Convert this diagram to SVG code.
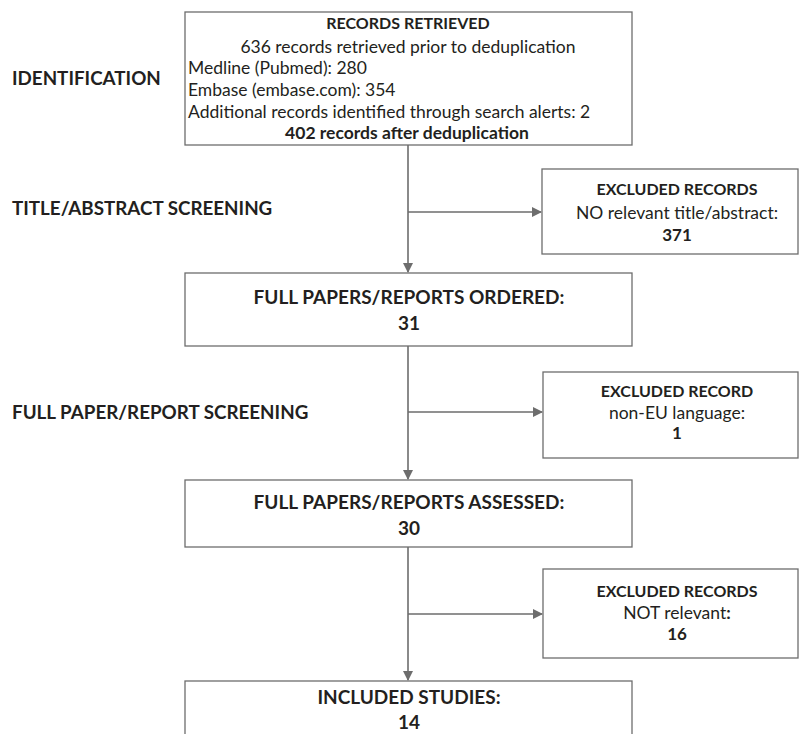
<svg xmlns="http://www.w3.org/2000/svg" width="803" height="734" viewBox="0 0 803 734">
<style>
text{font-family:Lato,"Open Sans","Liberation Sans",sans-serif;fill:#231f20}
.box{fill:#fff;stroke:#6d6d6d;stroke-width:1.3}
.ln{stroke:#6d6d6d;stroke-width:1.6;fill:none}
.b{font-weight:bold}
.c{text-anchor:middle}
.lab{font-size:18.8px;font-weight:bold}
.t{font-size:17.5px}
.h{font-size:16px;font-weight:bold}
.n{font-size:17px;font-weight:bold}
.big{font-size:19px;font-weight:bold}
</style>
<defs>
<marker id="ah" markerWidth="10" markerHeight="10" refX="9" refY="5" orient="auto" markerUnits="userSpaceOnUse">
<path d="M0,0 L10,5 L0,10 Z" fill="#6d6d6d"/>
</marker>
</defs>
<g id="labels">
<text class="lab" x="12" y="85">IDENTIFICATION</text>
<text class="lab" x="12" y="215">TITLE/ABSTRACT SCREENING</text>
<text class="lab" x="12" y="419">FULL PAPER/REPORT SCREENING</text>
</g>
<g id="connectors">
<line class="ln" x1="408" y1="145" x2="408" y2="272" marker-end="url(#ah)"/>
<line class="ln" x1="408" y1="212" x2="541" y2="212" marker-end="url(#ah)"/>
<line class="ln" x1="408" y1="346" x2="408" y2="479" marker-end="url(#ah)"/>
<line class="ln" x1="408" y1="412" x2="542" y2="412" marker-end="url(#ah)"/>
<line class="ln" x1="408" y1="547" x2="408" y2="680" marker-end="url(#ah)"/>
<line class="ln" x1="408" y1="614" x2="542" y2="614" marker-end="url(#ah)"/>
</g>
<g id="records-retrieved">
<rect class="box" x="185" y="12" width="447" height="133"/>
<text class="h c" x="408" y="29">RECORDS RETRIEVED</text>
<text class="t c" x="408" y="53">636 records retrieved prior to deduplication</text>
<text class="t" x="188" y="74">Medline (Pubmed): 280</text>
<text class="t" x="188" y="96">Embase (embase.com): 354</text>
<text class="t" x="188" y="118">Additional records identified  through search alerts: 2</text>
<text class="t b c" x="407" y="139">402 records after deduplication</text>
</g>
<g id="excluded-1">
<rect class="box" x="542" y="169" width="256" height="85"/>
<text class="h c" x="677" y="195">EXCLUDED RECORDS</text>
<text class="t c" x="677" y="219">NO relevant title/abstract:</text>
<text class="n c" x="677" y="241">371</text>
</g>
<g id="full-papers-ordered">
<rect class="box" x="185" y="273" width="447" height="73"/>
<text class="big c" x="409" y="304">FULL PAPERS/REPORTS ORDERED:</text>
<text class="big c" x="409" y="330">31</text>
</g>
<g id="excluded-2">
<rect class="box" x="543" y="372" width="255" height="86"/>
<text class="h c" x="677" y="397">EXCLUDED RECORD</text>
<text class="t c" x="677" y="419">non-EU language:</text>
<text class="n c" x="677" y="439">1</text>
</g>
<g id="full-papers-assessed">
<rect class="box" x="185" y="480" width="447" height="67"/>
<text class="big c" x="409" y="509">FULL PAPERS/REPORTS ASSESSED:</text>
<text class="big c" x="409" y="535">30</text>
</g>
<g id="excluded-3">
<rect class="box" x="543" y="569" width="255" height="89"/>
<text class="h c" x="677" y="597">EXCLUDED RECORDS</text>
<text class="t c" x="677" y="619">NOT relevant<tspan class="b">:</tspan></text>
<text class="n c" x="677" y="640">16</text>
</g>
<g id="included-studies">
<rect class="box" x="185" y="681" width="447" height="60"/>
<text class="big c" x="409" y="704">INCLUDED STUDIES:</text>
<text class="big c" x="409" y="729">14</text>
</g>
</svg>
